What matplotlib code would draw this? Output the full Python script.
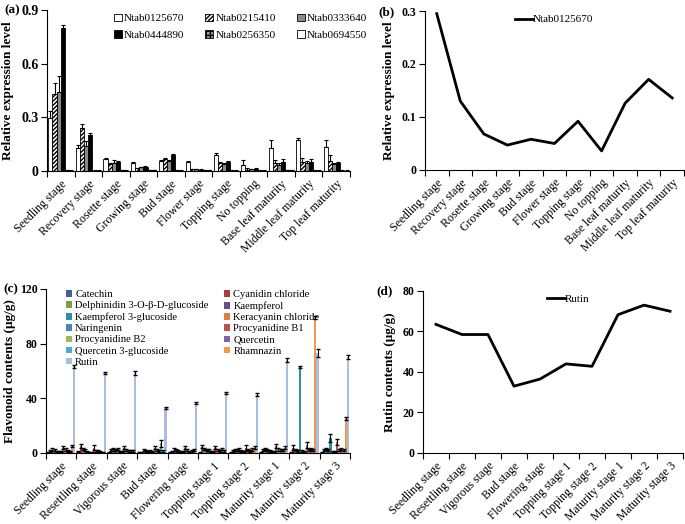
import matplotlib.pyplot as plt
import numpy as np

plt.rcParams['font.family'] = ['Liberation Serif', 'DejaVu Serif']

# ---- panel a / b data
stages_ab = ['Seedling stage', 'Recovery stage', 'Rosette stage', 'Growing stage',
             'Bud stage', 'Flower stage', 'Topping stage', 'No topping',
             'Base leaf maturity', 'Middle leaf maturity', 'Top leaf maturity']
genes = ['Ntab0125670', 'Ntab0215410', 'Ntab0333640',
         'Ntab0444890', 'Ntab0256350', 'Ntab0694550']
n0125670 = [0.295, 0.13, 0.068, 0.047, 0.058, 0.05, 0.092, 0.036, 0.126, 0.171, 0.136]
n0215410 = [0.43, 0.24, 0.04, 0.015, 0.065, 0.01, 0.045, 0.005, 0.045, 0.05, 0.055]
n0333640 = [0.44, 0.14, 0.045, 0.02, 0.055, 0.01, 0.04, 0.01, 0.035, 0.045, 0.04]
n0444890 = [0.80, 0.20, 0.05, 0.025, 0.09, 0.008, 0.05, 0.012, 0.05, 0.05, 0.045]
n0256350 = [0.003, 0.002, 0.003, 0.005, 0.003, 0.004, 0.002, 0.002, 0.003, 0.002, 0.002]
n0694550 = [0.002, 0.002, 0.002, 0.004, 0.002, 0.003, 0.002, 0.002, 0.004, 0.002, 0.002]
e0125670 = [0.04, 0.015, 0.005, 0.004, 0.006, 0.005, 0.01, 0.025, 0.045, 0.012, 0.035]
e0215410 = [0.06, 0.025, 0.005, 0.003, 0.005, 0.002, 0.005, 0.01, 0.015, 0.025, 0.035]
e0333640 = [0.09, 0.03, 0.015, 0.003, 0.005, 0.002, 0.005, 0.003, 0.008, 0.01, 0.005]
e0444890 = [0.015, 0.015, 0.004, 0.003, 0.004, 0.002, 0.004, 0.002, 0.015, 0.015, 0.004]
e_small = [0.001] * 11

# ---- panel c / d data
stages_cd = ['Seedling stage', 'Resettling stage', 'Vigorous stage', 'Bud stage',
             'Flowering stage', 'Topping stage 1', 'Topping stage 2',
             'Maturity stage 1', 'Maturity stage 2', 'Maturity stage 3']
compounds = ['Catechin', 'Cyanidin chloride', 'Delphinidin 3-O-β-D-glucoside',
             'Kaempferol', 'Kaempferol 3-glucoside', 'Keracyanin chloride',
             'Naringenin', 'Procyanidine B1', 'Procyanidine B2', 'Quercetin',
             'Quercetin 3-glucoside', 'Rhamnazin', 'Rutin']
comp_colors = ['#3A6495', '#A8403C', '#7F9C45', '#66508A', '#2F8FA6', '#D9803E',
               '#4F81BD', '#C0504D', '#9BBB59', '#8064A2', '#4BACC6', '#F79646',
               '#A9BDE0']
# rows = stages, columns = compounds (Rutin last)
flav = [
    [0.5, 1.5, 2.5, 2.0, 1.0, 1.0, 0.8, 4.0, 2.5, 1.5, 1.0, 5.0, 63.5],
    [0.8, 5.0, 3.0, 2.0, 1.0, 0.5, 0.5, 4.0, 1.5, 1.5, 1.0, 0.5, 58.5],
    [0.5, 2.0, 2.5, 2.0, 3.0, 1.0, 1.0, 4.0, 2.0, 1.5, 1.5, 1.5, 58.5],
    [0.3, 0.5, 2.0, 1.5, 1.0, 1.5, 1.0, 4.0, 2.0, 1.5, 7.0, 1.5, 33.0],
    [0.5, 1.0, 2.5, 2.0, 1.5, 1.0, 1.0, 4.0, 2.0, 1.0, 1.5, 2.0, 36.5],
    [0.5, 4.5, 3.0, 2.0, 2.0, 1.0, 1.0, 4.0, 2.0, 1.5, 3.0, 1.5, 44.0],
    [0.3, 1.5, 2.0, 2.0, 2.5, 1.5, 1.0, 4.0, 2.0, 1.5, 2.5, 4.0, 42.8],
    [0.5, 2.0, 3.0, 2.0, 1.5, 1.0, 1.0, 5.0, 2.5, 2.0, 2.0, 4.0, 68.3],
    [0.5, 4.0, 2.0, 1.5, 63.0, 1.5, 1.0, 6.0, 2.0, 3.0, 2.0, 99.0, 73.0],
    [0.5, 2.0, 3.0, 2.0, 11.0, 1.0, 1.0, 8.0, 2.0, 3.0, 2.0, 25.5, 70.0],
]
flav_err = [
    [0.3, 1.0, 0.8, 0.6, 0.5, 0.4, 0.4, 1.2, 0.8, 0.6, 0.5, 0.8, 1.0],
    [0.3, 1.5, 1.0, 0.6, 0.5, 0.3, 0.3, 1.5, 0.6, 0.6, 0.5, 0.3, 1.0],
    [0.3, 0.8, 0.8, 0.6, 1.0, 0.4, 0.4, 1.2, 0.6, 0.6, 0.6, 0.5, 1.5],
    [0.2, 0.3, 0.6, 0.5, 0.5, 0.5, 0.4, 1.2, 0.6, 0.6, 2.5, 0.5, 1.0],
    [0.3, 0.5, 0.8, 0.6, 0.5, 0.4, 0.4, 1.2, 0.6, 0.4, 0.6, 0.8, 0.6],
    [0.3, 1.2, 1.0, 0.6, 0.6, 0.4, 0.4, 1.2, 0.6, 0.6, 1.0, 0.5, 0.8],
    [0.2, 0.6, 0.6, 0.6, 0.8, 0.5, 0.4, 1.5, 0.6, 0.6, 0.8, 0.8, 0.8],
    [0.3, 0.8, 1.0, 0.6, 0.5, 0.4, 0.4, 1.5, 0.8, 0.8, 0.8, 1.0, 1.5],
    [0.3, 1.5, 0.8, 0.6, 1.0, 0.5, 0.4, 2.0, 0.6, 1.0, 0.8, 1.0, 3.0],
    [0.3, 0.8, 1.0, 0.6, 3.0, 0.4, 0.4, 2.5, 0.6, 1.0, 0.8, 1.0, 1.5],
]
rutin = [63.5, 58.5, 58.5, 33.0, 36.5, 44.0, 42.8, 68.3, 73.0, 70.0]

fig = plt.figure(figsize=(6.85, 5.24), dpi=100)

ax_a = fig.add_axes([0.0686, 0.6737, 0.4423, 0.3073])
ax_b = fig.add_axes([0.6204, 0.6756, 0.3781, 0.3034])
ax_c = fig.add_axes([0.0672, 0.1355, 0.4438, 0.3130])
ax_d = fig.add_axes([0.6175, 0.1355, 0.3796, 0.3092])


def style_axis(ax, labels, yticks, ylim, ysize=8.5):
    n = len(labels)
    ax.set_xlim(-0.5, n - 0.5)
    ax.set_ylim(*ylim)
    ax.set_xticks(np.arange(n))
    ax.set_xticklabels(labels, rotation=45, ha='right', rotation_mode='anchor', fontsize=8.5)
    ax.tick_params(axis='x', which='major', length=0, pad=5)
    ax.set_xticks(np.arange(n + 1) - 0.5, minor=True)
    ax.tick_params(axis='x', which='minor', length=4, direction='out', width=0.8)
    ax.set_yticks(yticks)
    ax.tick_params(axis='y', length=4, direction='out', width=0.8, labelsize=ysize, pad=2)
    for lab in ax.get_yticklabels():
        lab.set_fontweight('bold')
    for s in ['top', 'right']:
        ax.spines[s].set_visible(False)
    for s in ['left', 'bottom']:
        ax.spines[s].set_linewidth(0.8)


# (a) grouped bars
a_vals = [n0125670, n0215410, n0333640, n0444890, n0256350, n0694550]
a_errs = [e0125670, e0215410, e0333640, e0444890, e_small, e_small]
a_face = ['white', 'white', '#8a8a8a', 'black', '#9a9a9a', 'white']
a_hatch = [None, '////////', None, None, '++++', None]
x = np.arange(len(stages_ab))
bw = 0.15
for i, (vals, errs) in enumerate(zip(a_vals, a_errs)):
    pos = x - 0.375 + i * bw
    ax_a.bar(pos, vals, bw, color=a_face[i], edgecolor='black', linewidth=0.6,
             hatch=a_hatch[i], label=genes[i])
    ax_a.errorbar(pos, vals, yerr=[np.zeros(len(errs)), errs], fmt='none',
                  ecolor='black', elinewidth=0.8, capsize=1.5, capthick=0.8)
style_axis(ax_a, stages_ab, [0, 0.3, 0.6, 0.9], (0, 0.9), ysize=10)
ax_a.set_yticklabels(['0', '0.3', '0.6', '0.9'])
ax_a.set_ylabel('Relative expression level', fontsize=9.5, fontweight='bold', labelpad=5)
h, l = ax_a.get_legend_handles_labels()
a_order = [0, 3, 1, 4, 2, 5]   # row-wise like the original
ax_a.legend([h[k] for k in a_order], [l[k] for k in a_order], ncol=3,
            loc='upper right', bbox_to_anchor=(1.09, 1.04), frameon=False,
            fontsize=8, handlelength=0.7, handleheight=0.7, handletextpad=0.2,
            columnspacing=1.9, labelspacing=0.6)

# (b) line
ax_b.plot(x, n0125670, color='black', lw=2, label='Ntab0125670')
style_axis(ax_b, stages_ab, [0, 0.1, 0.2, 0.3], (0, 0.3))
ax_b.set_yticklabels(['0', '0.1', '0.2', '0.3'])
ax_b.set_ylabel('Relative expression level', fontsize=9.5, fontweight='bold', labelpad=5)
ax_b.legend(loc='upper center', bbox_to_anchor=(0.5, 1.04), frameon=False,
            fontsize=8, handlelength=1.6, handletextpad=0.0)

# (c) grouped bars, 13 compounds
xc = np.arange(len(stages_cd))
flav = np.array(flav)
flav_err = np.array(flav_err)
bwc = 0.072
for j, name in enumerate(compounds):
    pos = xc - 0.468 + (j + 0.5) * bwc
    ax_c.bar(pos, flav[:, j], bwc, color=comp_colors[j], label=name, linewidth=0)
    ax_c.errorbar(pos, flav[:, j], yerr=flav_err[:, j], fmt='none', ecolor='black',
                  elinewidth=0.8, capsize=1.5, capthick=1.0)
style_axis(ax_c, stages_cd, [0, 40, 80, 120], (0, 120))
ax_c.set_ylabel('Flavonoid contents (μg/g)', fontsize=9.5, fontweight='bold', labelpad=3)
handles, labels = ax_c.get_legend_handles_labels()
order = list(range(0, 13, 2)) + list(range(1, 13, 2))
ax_c.legend([handles[k] for k in order], [labels[k] for k in order], ncol=2,
            loc='upper left', bbox_to_anchor=(0.035, 1.05), frameon=False,
            fontsize=7.6, handlelength=0.55, handleheight=0.55, handletextpad=0.3,
            columnspacing=1.5, labelspacing=0.2)

# (d) line
ax_d.plot(xc, rutin, color='black', lw=2, label='Rutin')
style_axis(ax_d, stages_cd, [0, 20, 40, 60, 80], (0, 80))
ax_d.set_ylabel('Rutin contents (μg/g)', fontsize=9.5, fontweight='bold', labelpad=5)
ax_d.legend(loc='upper center', bbox_to_anchor=(0.56, 1.04), frameon=False,
            fontsize=8, handlelength=1.6, handletextpad=0.0)

# panel letters
for txt, px, py in [('(a)', 4, 10), ('(b)', 378, 12), ('(c)', 3, 289), ('(d)', 376, 291)]:
    fig.text(px / 685, 1 - py / 524, txt, fontsize=9.5, fontweight='bold', va='center')

fig.savefig('out.png', dpi=100)
